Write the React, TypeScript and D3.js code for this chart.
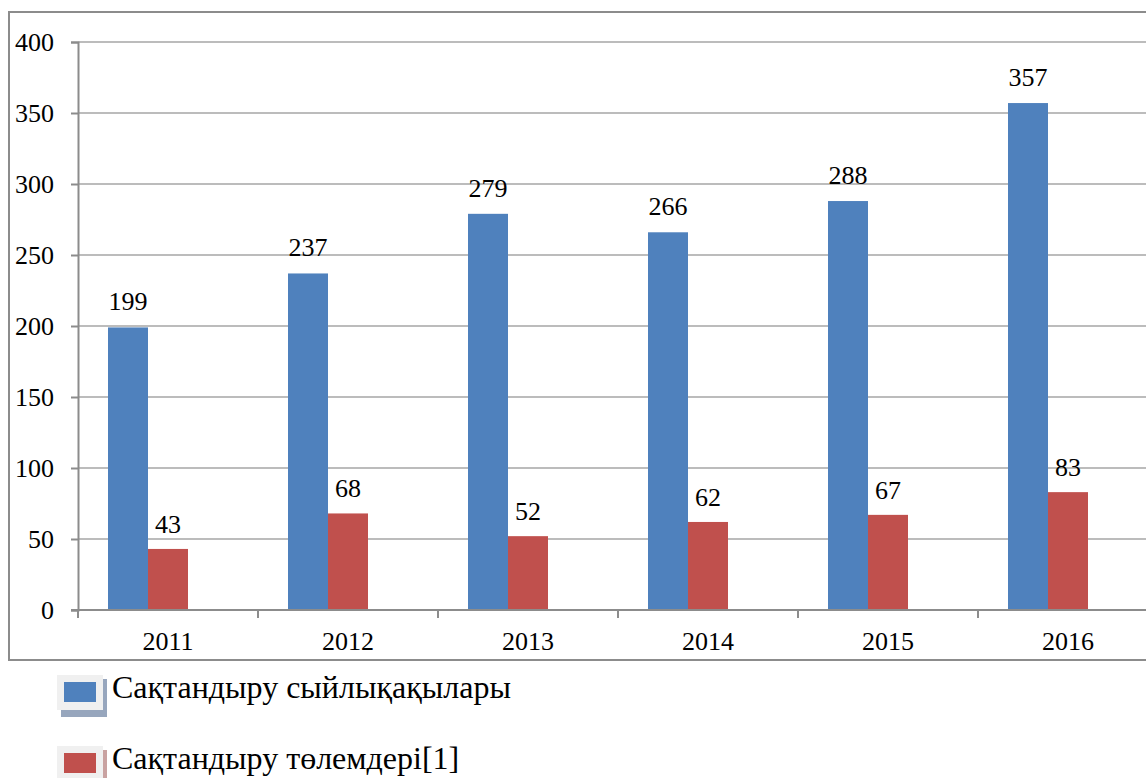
import * as d3 from 'd3';
import React, { useEffect, useRef } from 'react';

const years = ['2011', '2012', '2013', '2014', '2015', '2016'];
const premiums = [199, 237, 279, 266, 288, 357];
const payouts = [43, 68, 52, 62, 67, 83];
const yTicks = [0, 50, 100, 150, 200, 250, 300, 350, 400];
const seriesNames = ['Сақтандыру сыйлықақылары', 'Сақтандыру төлемдері[1]'];
const colors = ['#4F81BD', '#C0504D'];

const FONT = "'Liberation Serif', 'Times New Roman', serif";

const App = () => {
  const svgRef = useRef<SVGSVGElement>(null);

  useEffect(() => {
    const svg = d3.select(svgRef.current);
    svg.selectAll('*').remove();

    // frame
    svg
      .append('rect')
      .attr('x', 9)
      .attr('y', 12)
      .attr('width', 1160)
      .attr('height', 648)
      .attr('fill', '#fff')
      .attr('stroke', '#8c8c8c')
      .attr('stroke-width', 2);

    const left = 78;
    const top = 42;
    const bottom = 610;
    const right = left + 180 * years.length;

    const x = d3.scaleBand().domain(years).range([left, right]);
    const y = d3.scaleLinear().domain([0, 400]).range([bottom, top]);
    const barW = 40;
    const offset = 30;

    // gridlines
    svg
      .append('g')
      .selectAll('line')
      .data(yTicks.filter((t) => t > 0))
      .join('line')
      .attr('x1', left)
      .attr('x2', right)
      .attr('y1', (d) => y(d))
      .attr('y2', (d) => y(d))
      .attr('stroke', '#a6a6a6')
      .attr('stroke-width', 1.5);

    // bars
    const groups = svg
      .append('g')
      .selectAll('g')
      .data(years)
      .join('g');

    groups
      .append('rect')
      .attr('x', (d) => (x(d) as number) + offset)
      .attr('y', (_, i) => y(premiums[i]))
      .attr('width', barW)
      .attr('height', (_, i) => bottom - y(premiums[i]))
      .attr('fill', colors[0]);

    groups
      .append('rect')
      .attr('x', (d) => (x(d) as number) + offset + barW)
      .attr('y', (_, i) => y(payouts[i]))
      .attr('width', barW)
      .attr('height', (_, i) => bottom - y(payouts[i]))
      .attr('fill', colors[1]);

    groups
      .append('text')
      .attr('x', (d) => (x(d) as number) + offset + barW / 2)
      .attr('y', (_, i) => y(premiums[i]) - 17)
      .attr('text-anchor', 'middle')
      .style('font-family', FONT)
      .style('font-size', '26px')
      .text((_, i) => premiums[i]);

    groups
      .append('text')
      .attr('x', (d) => (x(d) as number) + offset + barW * 1.5)
      .attr('y', (_, i) => y(payouts[i]) - 16)
      .attr('text-anchor', 'middle')
      .style('font-family', FONT)
      .style('font-size', '26px')
      .text((_, i) => payouts[i]);

    // y axis
    const yAxis = svg
      .append('g')
      .attr('transform', `translate(${left},0)`)
      .call(d3.axisLeft(y).tickValues(yTicks).tickSize(7).tickPadding(17));
    yAxis.attr('font-family', null).attr('font-size', null);
    yAxis.select('.domain').attr('stroke', '#8c8c8c').attr('stroke-width', 2);
    yAxis.selectAll('.tick line').attr('stroke', '#8c8c8c').attr('stroke-width', 2);
    yAxis
      .selectAll('.tick text')
      .style('font-family', FONT)
      .style('font-size', '26px')
      .attr('fill', '#000');

    // x axis
    const xAxis = svg.append('g').attr('transform', `translate(0,${bottom})`);
    xAxis
      .append('line')
      .attr('x1', left - 7)
      .attr('x2', right)
      .attr('stroke', '#8c8c8c')
      .attr('stroke-width', 2);
    xAxis
      .selectAll('line.tk')
      .data(d3.range(years.length + 1))
      .join('line')
      .attr('class', 'tk')
      .attr('x1', (i) => left + i * x.bandwidth())
      .attr('x2', (i) => left + i * x.bandwidth())
      .attr('y1', 0)
      .attr('y2', 8)
      .attr('stroke', '#8c8c8c')
      .attr('stroke-width', 2);
    xAxis
      .selectAll('text')
      .data(years)
      .join('text')
      .attr('x', (d) => (x(d) as number) + x.bandwidth() / 2)
      .attr('y', 40)
      .attr('text-anchor', 'middle')
      .style('font-family', FONT)
      .style('font-size', '26px')
      .text((d) => d);

    // legend
    const legend = svg
      .append('g')
      .selectAll('g')
      .data(seriesNames)
      .join('g')
      .attr('transform', (_, i) => `translate(0,${i * 71})`);
    legend
      .append('rect')
      .attr('x', 61)
      .attr('y', 679)
      .attr('width', 46)
      .attr('height', 38)
      .attr('fill', (_, i) => (i === 0 ? '#97a6bd' : '#c9a2a1'));
    legend
      .append('rect')
      .attr('x', 57)
      .attr('y', 675)
      .attr('width', 46)
      .attr('height', 35)
      .attr('fill', '#f0f0f0');
    legend
      .append('rect')
      .attr('x', 64)
      .attr('y', 682)
      .attr('width', 32)
      .attr('height', 20)
      .attr('fill', (_, i) => colors[i]);
    legend
      .append('text')
      .attr('x', 112)
      .attr('y', 698)
      .style('font-family', FONT)
      .style('font-size', '32px')
      .text((d) => d);
  }, []);

  return (
    <svg
      ref={svgRef}
      width={1146}
      height={778}
      style={{ position: 'absolute', left: 0, top: 0, background: '#fff' }}
    />
  );
};

export default App;
